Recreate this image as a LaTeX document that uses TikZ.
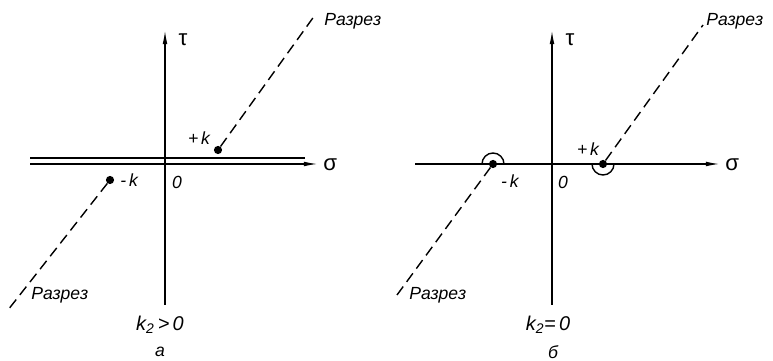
\documentclass[tikz,border=0pt]{standalone}
\usepackage{fontspec}
\setmainfont{Liberation Sans}
\usetikzlibrary{arrows.meta, positioning}

\tikzset{
  axis/.style={line width=1.2pt, -{Latex[length=12pt,width=4pt]}},
  cut/.style={line width=1.2pt, dash pattern=on 9pt off 5pt},
  pole/.style={circle, fill, inner sep=0pt, minimum size=7pt},
  lbl/.style={font=\fontsize{15}{17}\selectfont\itshape, inner sep=1pt},
  cond/.style={font=\fontsize{17}{19}\selectfont\itshape, inner sep=1pt},
  greek/.style={font=\fontsize{19}{21}\selectfont, inner sep=1pt},
}

\begin{document}
\begin{tikzpicture}[x=0.03cm, y=0.03cm]
\useasboundingbox (0,0) rectangle (773,361);

% ---- left panel (a) ----
\coordinate (ytopA) at (165,331);
\coordinate (ybotA) at (165,56);
\coordinate (xlA) at (30,197);
\coordinate (xrA) at (318,197);
\coordinate (ulA) at (30,203);
\coordinate (urA) at (305,203);
\coordinate (cutupA) at (315,346);
\coordinate (cutdnA) at (8,51);

% Axes (double line along sigma)
\draw[axis] (ybotA) -- (ytopA);
\draw[axis] (xlA) -- (xrA);
\draw[line width=1.2pt] (ulA) -- (urA);

% Poles
\node[pole] (pkA) at (218,211) {};
\node[pole] (mkA) at (110,181) {};

% Cuts
\draw[cut] (pkA) -- (cutupA);
\draw[cut] (mkA) -- (cutdnA);

% Labels
\node[greek] (tauA) at (183,321) {τ};
\node[greek, anchor=west] (sigA) at (322,196) {σ};
\node[lbl, above left=1pt and 3pt of pkA] (pkAl) {+\,k};
\node[lbl, right=4pt of mkA] (mkAl) {-\,k};
\node[lbl] (zeroA) at (177,179) {0};
\node[lbl, anchor=west] (razA1) at (323,340) {Разрез};
\node[lbl, anchor=west] (razA2) at (30,66) {Разрез};
\node[cond] (condA) at (160,36) {k\textsubscript{2}\,>\,0};
\node[lbl] (capA) at (160,9) {а};

% ---- right panel (b) ----
\coordinate (ytopB) at (552,331);
\coordinate (ybotB) at (552,56);
\coordinate (xlB) at (415,197);
\coordinate (xrB) at (720,197);
\coordinate (cutupB) at (703,336);
\coordinate (cutdnB) at (397,66);

% Axes
\draw[axis] (ybotB) -- (ytopB);
\draw[axis] (xlB) -- (xrB);

% Poles with small half circles
\node[pole] (mkB) at (493,197) {};
\node[pole] (pkB) at (603,197) {};
\draw[line width=1.2pt] ([xshift=0.33cm]mkB.center) arc[start angle=0, end angle=180, radius=0.33cm];
\draw[line width=1.2pt] ([xshift=0.33cm]pkB.center) arc[start angle=0, end angle=-180, radius=0.33cm];

% Cuts
\draw[cut] (pkB) -- (cutupB);
\draw[cut] (mkB) -- (cutdnB);

% Labels
\node[greek] (tauB) at (570,321) {τ};
\node[greek, anchor=west] (sigB) at (724,196) {σ};
\node[lbl] (pkBl) at (588,212) {+\,k};
\node[lbl] (mkBl) at (510,180) {-\,k};
\node[lbl] (zeroB) at (563,179) {0};
\node[lbl, anchor=west] (razB1) at (705,340) {Разрез};
\node[lbl, anchor=west] (razB2) at (408,66) {Разрез};
\node[cond] (condB) at (548,36) {k\textsubscript{2}=\,0};
\node[lbl] (capB) at (553,9) {б};
\end{tikzpicture}
\end{document}
